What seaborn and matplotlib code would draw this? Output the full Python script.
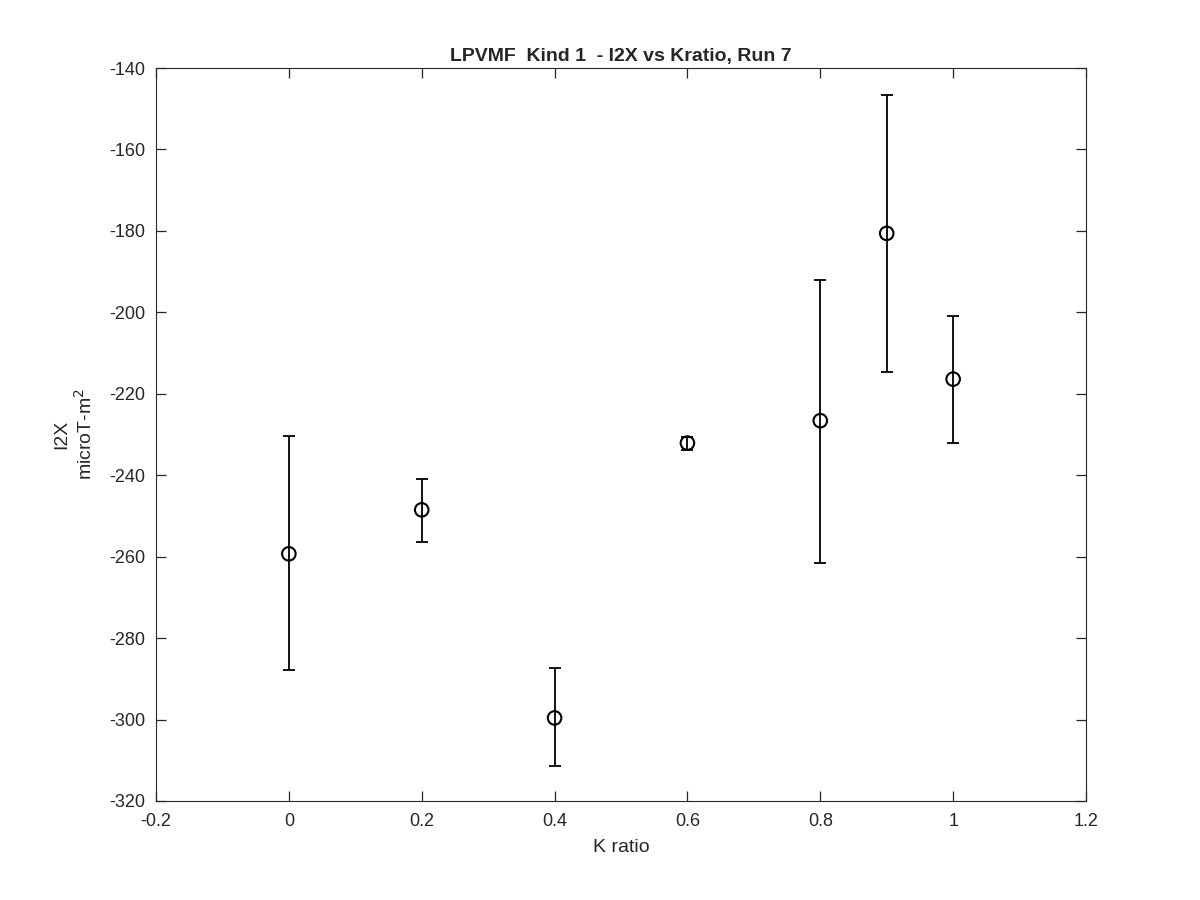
import matplotlib.pyplot as plt
import seaborn as sns
import numpy as np
import pandas as pd

k_ratio = [0.0, 0.2, 0.4, 0.6, 0.8, 0.9, 1.0]
i2x = [-259.3, -248.5, -299.6, -232.1, -226.6, -180.6, -216.4]
i2x_upper = [-230.4, -240.9, -287.3, -230.6, -192.1, -146.5, -200.8]
i2x_lower = [-287.8, -256.5, -311.4, -233.8, -261.5, -214.7, -232.0]

data = pd.DataFrame({'K ratio': k_ratio, 'I2X': i2x,
                     'upper': i2x_upper, 'lower': i2x_lower})

sns.set_style('ticks')
plt.rcParams['font.family'] = ['Liberation Sans', 'DejaVu Sans']
plt.rcParams['axes.unicode_minus'] = False

fig = plt.figure(figsize=(12, 9), dpi=100)
ax = fig.add_axes([0.13, 0.11, 0.775, 0.8144])

yerr = np.array([data['I2X'] - data['lower'], data['upper'] - data['I2X']])
ax.errorbar(data['K ratio'], data['I2X'], yerr=yerr, fmt='none',
            ecolor='black', elinewidth=1.3, capsize=4.5, capthick=1.3)
sns.scatterplot(data=data, x='K ratio', y='I2X', ax=ax, marker='o', s=95,
                facecolor='none', edgecolor='black', linewidth=1.5, zorder=3)

ax.set_xlim(-0.2, 1.2)
ax.set_ylim(-320, -140)
ax.set_xticks(np.arange(-0.2, 1.21, 0.2))
ax.set_xticklabels(['-0.2', '0', '0.2', '0.4', '0.6', '0.8', '1', '1.2'])
ax.set_yticks(np.arange(-320, -139, 20))
ax.tick_params(direction='in', length=7, width=0.9, labelsize=13,
               top=True, right=True, bottom=True, left=True,
               color='#262626', labelcolor='#262626')
ax.tick_params(axis='x', pad=9)
ax.tick_params(axis='y', pad=8)
for s in ax.spines.values():
    s.set_visible(True)
    s.set_color('#262626')
    s.set_linewidth(0.8)

ax.set_xlabel('K ratio', fontsize=14, color='#262626', labelpad=6)
ax.set_ylabel('I2X\nmicroT-m$^2$', fontsize=14, color='#262626',
              linespacing=1.25, labelpad=9)
ax.set_title('LPVMF  Kind 1  - I2X vs Kratio, Run 7', fontsize=14,
             fontweight='bold', pad=5)

plt.savefig('out.png', dpi=100)
